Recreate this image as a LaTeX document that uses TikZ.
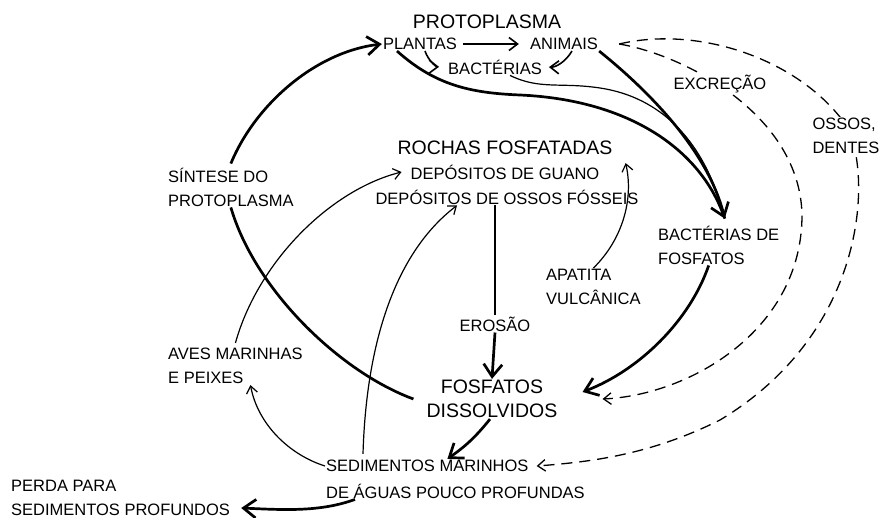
\documentclass[tikz,border=0pt]{standalone}
\usepackage{fontspec}
\setmainfont{Liberation Sans}
\usetikzlibrary{positioning, arrows.meta, calc}

\begin{document}
\begin{tikzpicture}[x=1pt, y=-1pt, font=\fontsize{16.5}{24}\selectfont,
  >={Straight Barb[length=3pt 3.5, width=5pt 5]},
  lbl/.style={inner sep=1pt, align=left},
  big/.style={inner sep=1pt, align=center, font=\fontsize{19.5}{24}\selectfont},
  thk/.style={line width=2.7pt},
  med/.style={line width=1.6pt},
  thn/.style={line width=1.2pt},
  dsh/.style={line width=1.3pt, dash pattern=on 11pt off 7pt},
]
  \useasboundingbox (0,0) rectangle (881,518);

  \node[big] (proto) at (487,22) {PROTOPLASMA};
  \node[lbl] (plantas) at (420,44) {PLANTAS};
  \node[lbl] (animais) at (564,44) {ANIMAIS};
  \node[lbl] (bact) at (495,67) {BACTÉRIAS};
  \node[big] (rochas) at (505,148) {ROCHAS FOSFATADAS};
  \node[lbl] (guano) at (505,172) {DEPÓSITOS DE GUANO};
  \node[lbl] (fosseis) at (507,197) {DEPÓSITOS DE OSSOS FÓSSEIS};
  \node[lbl, anchor=west] (sintese) at (167,187) {SÍNTESE DO\\PROTOPLASMA};
  \node[lbl, anchor=west] (bactfos) at (657,245) {BACTÉRIAS DE\\FOSFATOS};
  \node[lbl, anchor=west] (apatita) at (545,287) {APATITA\\VULCÂNICA};
  \node[lbl] (erosao) at (495,324) {EROSÃO};
  \node[lbl, anchor=west] (aves) at (167,366) {AVES MARINHAS\\E PEIXES};
  \node[big] (fosfatos) at (492,399) {FOSFATOS\\DISSOLVIDOS};
  \node[lbl, anchor=west] (sedim) at (325,466) {SEDIMENTOS MARINHOS};
  \node[lbl, anchor=west] (sedima) at (325,491) {DE ÁGUAS POUCO PROFUNDAS};
  \node[lbl, anchor=west] (perda) at (10,498) {PERDA PARA\\SEDIMENTOS PROFUNDOS};

  \coordinate (bfin) at ([xshift=6pt, yshift=6pt]bactfos.north);

  % grande ciclo
  \draw[thk, ->] ([yshift=3pt]sintese.north) .. controls (255,105) and (315,52) .. (plantas.west);
  \draw[thk] (sintese.south) .. controls (255,290) and (340,372) .. ([xshift=-12pt]fosfatos.west);
  \draw[thk, ->] ([xshift=-23pt]plantas.south) .. controls (435,85) and (470,93) .. (520,95)
    .. controls (630,100) and (700,150) .. (bfin);
  \draw[thk] (animais.south east) .. controls (660,100) and (712,160) .. (bfin);
  \draw[thn] ([xshift=15pt]bact.south) .. controls (540,90) and (560,82) .. (600,88)
    .. controls (660,97) and (705,140) .. (bfin);
  \draw[thk, ->] ([xshift=-10pt]bactfos.south) .. controls (690,320) and (640,370)
    .. ([xshift=24pt, yshift=7pt]fosfatos.east);

  % protoplasma
  \draw[med, ->, shorten <=5pt, shorten >=10pt] (plantas.east) -- (animais.west);
  \draw[med, ->, shorten >=8pt] ([xshift=5pt]plantas.south) to[bend right=35] (bact.west);
  \draw[med, ->, shorten >=6pt] ([xshift=8pt]animais.south) to[bend left=30] (bact.east);

  % excrecao, ossos
  \draw[dsh, ->] ([xshift=20pt]animais.east) .. controls (685,55) and (800,115) .. (802,215)
    .. controls (802,330) and (690,395) .. ([xshift=44pt]fosfatos.east);
  \draw[dsh, ->] ([xshift=20pt]animais.east) .. controls (700,25) and (800,60) .. (846,125)
    .. controls (872,170) and (870,330) .. (720,420)
    .. controls (650,455) and (590,462) .. ([xshift=7pt]sedim.east);
  \node[lbl, fill=white] (excr) at (720,84) {EXCREÇÃO};
  \node[lbl, fill=white] (ossos) at (846,136) {OSSOS,\\DENTES};

  % rochas
  \draw[thk] (erosao |- fosseis.south) -- (erosao.north);
  \draw[thk, ->] (erosao.south) -- (fosfatos.north);
  \draw[thn, ->] (apatita.north) .. controls (622,240) and (634,200)
    .. ([xshift=12pt, yshift=-7pt]rochas.south east);
  \draw[thn, ->] ([yshift=4pt]aves.north) .. controls (258,262) and (330,190) .. ([xshift=-8pt]guano.west);
  \draw[thn, ->] ([xshift=38pt, yshift=5pt]sedim.north west) .. controls (366,350) and (392,255)
    .. ([xshift=-50pt]fosseis.south);

  % sedimentos
  \draw[thk, ->] ([xshift=-2pt]fosfatos.south) to[bend left=8] ([xshift=20pt]sedim.north);
  \draw[thn, ->] (sedim.west) .. controls (290,455) and (258,425) .. ([xshift=15pt]aves.south);
  \draw[thk, ->] ([xshift=30pt]sedima.south west) .. controls (320,512) and (285,510)
    .. ([xshift=10pt, yshift=-10pt]perda.east);
\end{tikzpicture}
\end{document}
